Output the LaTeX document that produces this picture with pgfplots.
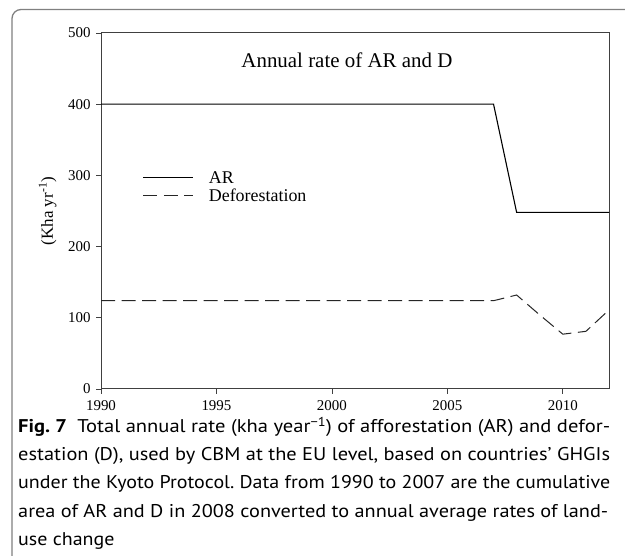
\documentclass[border=0pt]{standalone}
\usepackage{fontspec}
\setmainfont{Liberation Serif}
\newfontfamily\capfont{PT Sans}
\newcommand\capsize{\capfont\fontsize{18.5}{20}\selectfont}
\usepackage{graphicx}
\usepackage{pgfplots}
\pgfplotsset{compat=1.18}
\newlength\Lw
\frenchspacing
\begin{document}
\settowidth{\Lw}{\capsize under the Kyoto Protocol. Data from 1990 to 2007 are the cumulative}%
\pgfmathsetmacro\sx{594/\Lw}%
\begin{tikzpicture}
\useasboundingbox (0,0) rectangle (625bp,556bp);
\draw[black!50, line width=1.3bp, rounded corners=9bp] (12bp,-20bp) rectangle (660bp,546.5bp);
\begin{axis}[
  scale only axis, width=508bp, height=356bp,
  at={(101bp,167bp)}, anchor=south west,
  xmin=1990, xmax=2012, ymin=0, ymax=500,
  xtick={1990,1995,2000,2005,2010}, ytick={0,100,200,300,400,500},
  xticklabel style={/pgf/number format/1000 sep={}, yshift=-3bp},
  yticklabel style={xshift=-2bp},
  /pgf/number format/assume math mode=true,
  tick label style={font=\fontsize{15}{17}\selectfont},
  tick align=outside, tick pos=left, major tick length=5bp,
  axis line style={line width=1bp, black!75},
  every tick/.style={black!75, line width=0.8bp},
  ylabel={(Kha yr\textsuperscript{-1})},
  ylabel style={font=\fontsize{17}{19}\selectfont, at={(axis description cs:-0.105,0.5)}, anchor=center},
  legend image code/.code={\draw[#1] (0bp,0bp) -- (50bp,0bp);},
  legend style={draw=none, fill=none, at={(axis cs:1991.8,309)}, anchor=north west,
    font=\fontsize{18}{20}\selectfont, inner sep=0pt, row sep=0bp, column sep=13bp, cells={anchor=west}},
  clip=false,
]
\addplot[black, line width=1.1bp] coordinates {
(1990,400) (1991,400) (1992,400) (1993,400) (1994,400) (1995,400) (1996,400) (1997,400)
(1998,400) (1999,400) (2000,400) (2001,400) (2002,400) (2003,400) (2004,400) (2005,400)
(2006,400) (2007,400) (2008,248) (2009,248) (2010,248) (2011,248) (2012,248)};
\addlegendentry{AR}
\addplot[black!85, line width=1.0bp, dash pattern=on 14bp off 6.5bp] coordinates {
(1990,124) (1991,124) (1992,124) (1993,124) (1994,124) (1995,124) (1996,124) (1997,124)
(1998,124) (1999,124) (2000,124) (2001,124) (2002,124) (2003,124) (2004,124) (2005,124)
(2006,124) (2007,124) (2008,132) (2009,104) (2010,77) (2011,81) (2012,111)};
\addlegendentry{Deforestation}
\node[font=\fontsize{21}{23}\selectfont, anchor=base] at (axis cs:2000.65,452) {Annual rate of AR and D};
\end{axis}
\begin{scope}[font=\capsize]
\node[anchor=base west, inner sep=0pt] at (18bp,123bp) {\resizebox{592bp}{\height}{\textbf{Fig. 7}\enspace Total annual rate (kha year\textsuperscript{\char"2212 1}) of afforestation (AR) and defor-}};
\node[anchor=base west, inner sep=0pt] at (18bp,95bp) {\resizebox{592bp}{\height}{estation (D), used by CBM at the EU level, based on countries’ GHGIs}};
\node[anchor=base west, inner sep=0pt] at (18bp,67bp) {\resizebox{592bp}{\height}{under the Kyoto Protocol. Data from 1990 to 2007 are the cumulative}};
\node[anchor=base west, inner sep=0pt] at (18bp,39bp) {\resizebox{590bp}{\height}{area of AR and D in 2008 converted to annual average rates of land-}};
\node[anchor=base west, inner sep=0pt] at (18bp,11bp) {\scalebox{\sx}[1]{use change}};
\end{scope}
\end{tikzpicture}
\end{document}
